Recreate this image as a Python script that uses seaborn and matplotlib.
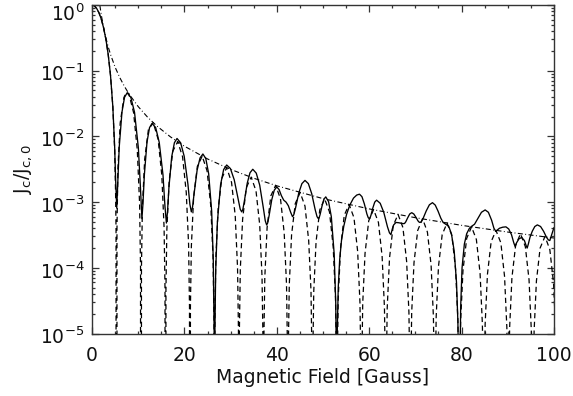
import matplotlib
matplotlib.use("Agg")
import matplotlib.pyplot as plt
import matplotlib.transforms as mtransforms
import seaborn as sns
from matplotlib.ticker import MultipleLocator, LogLocator, NullFormatter, FixedLocator

# ---------------- data ----------------
# dashed curve (ideal pattern)
field_dashed = [0, 0.5, 1, 1.5, 2, 2.5, 3, 3.5, 4, 4.5, 4.9, 5.1, 5.2, 5.3,
    5.4, 5.6, 6.1, 6.9, 7.42, 7.95, 9.0, 9.8, 10.3, 10.5, 10.6,
    10.7, 10.9, 11.4, 12.2, 13.25, 14.3, 15.1, 15.6, 15.8, 15.9,
    16.0, 16.2, 16.7, 17.5, 18.55, 19.6, 20.4, 20.9, 21.1, 21.2,
    21.3, 21.5, 22.0, 22.8, 23.85, 24.9, 25.7, 26.2, 26.4, 26.5,
    26.6, 26.8, 27.3, 28.1, 29.15, 30.2, 31.0, 31.5, 31.7, 31.8,
    31.9, 32.1, 32.6, 33.4, 34.45, 35.5, 36.3, 36.8, 37.0, 37.1,
    37.2, 37.4, 37.9, 38.7, 39.75, 40.8, 41.6, 42.1, 42.3, 42.4,
    42.5, 42.7, 43.2, 44.0, 45.05, 46.1, 46.9, 47.4, 47.6, 47.7,
    47.8, 48.0, 48.5, 49.3, 50.35, 51.4, 52.2, 52.7, 52.9, 53.0,
    53.1, 53.3, 53.8, 54.6, 55.65, 56.7, 57.5, 58.0, 58.2, 58.3,
    58.4, 58.6, 59.1, 59.9, 60.95, 62.0, 62.8, 63.3, 63.5, 63.6,
    63.7, 63.9, 64.4, 65.2, 66.25, 67.3, 68.1, 68.6, 68.8, 68.9,
    69.0, 69.2, 69.7, 70.5, 71.55, 72.6, 73.4, 73.9, 74.1, 74.2,
    74.3, 74.5, 75.0, 75.8, 76.85, 77.9, 78.7, 79.2, 79.4, 79.5,
    79.6, 79.8, 80.3, 81.1, 82.15, 83.2, 84.0, 84.5, 84.7, 84.8,
    84.9, 85.1, 85.6, 86.4, 87.45, 88.5, 89.3, 89.8, 90.0, 90.1,
    90.2, 90.4, 90.9, 91.7, 92.75, 93.8, 94.6, 95.1, 95.3, 95.4,
    95.5, 95.7, 96.2, 97.0, 98.05, 99.1, 99.9, 100.4, 100.6]
jc_dashed = [1.0, 0.971, 0.888, 0.762, 0.61, 0.45, 0.302, 0.177, 0.0853, 0.0287, 6.2e-3, 1.38e-3, 3.7e-4, 0,
    3.9e-4, 3.2e-3, 1.6e-2, 3.9e-2, 4.68e-2, 4.5e-2, 2.3e-2, 6.2e-3, 9.4e-4, 1.0e-4, 0,
    9.8e-5, 8.3e-4, 4.5e-3, 1.26e-2, 1.62e-2, 9.1e-3, 2.6e-3, 4.1e-4, 4.6e-5, 0,
    4.5e-5, 3.8e-4, 2.1e-3, 6.0e-3, 8.3e-3, 4.9e-3, 1.4e-3, 2.3e-4, 2.6e-5, 0,
    2.5e-5, 2.1e-4, 1.2e-3, 3.5e-3, 5.0e-3, 3.0e-3, 8.9e-4, 1.45e-4, 1.6e-5, 0,
    1.6e-5, 1.4e-4, 7.9e-4, 2.3e-3, 3.35e-3, 2.0e-3, 6.2e-4, 1.0e-4, 1.1e-5, 0,
    1.1e-5, 9.5e-5, 5.5e-4, 1.66e-3, 2.4e-3, 1.48e-3, 4.5e-4, 7.4e-5, 8.3e-6, 0,
    8.1e-6, 7.1e-5, 4.1e-4, 1.24e-3, 1.8e-3, 1.12e-3, 3.4e-4, 5.6e-5, 6.3e-6, 0,
    6.3e-6, 5.5e-5, 3.2e-4, 9.5e-4, 1.4e-3, 8.7e-4, 2.6e-4, 4.5e-5, 5.0e-6, 0,
    4.9e-6, 4.4e-5, 2.5e-4, 7.6e-4, 1.12e-3, 7.1e-4, 2.1e-4, 3.6e-5, 4.1e-6, 0,
    4.0e-6, 3.5e-5, 2.0e-4, 6.3e-4, 9.2e-4, 5.8e-4, 1.78e-4, 2.95e-5, 3.3e-6, 0,
    3.3e-6, 2.9e-5, 1.66e-4, 5.2e-4, 7.7e-4, 4.9e-4, 1.48e-4, 2.5e-5, 2.8e-6, 0,
    2.8e-6, 2.45e-5, 1.41e-4, 4.4e-4, 6.5e-4, 4.1e-4, 1.26e-4, 2.1e-5, 2.4e-6, 0,
    2.4e-6, 2.1e-5, 1.2e-4, 3.7e-4, 5.6e-4, 3.5e-4, 1.1e-4, 1.8e-5, 2.0e-6, 0,
    2.0e-6, 1.8e-5, 1.05e-4, 3.2e-4, 4.8e-4, 3.1e-4, 9.5e-5, 1.6e-5, 1.8e-6, 0,
    1.8e-6, 1.57e-5, 9.1e-5, 2.8e-4, 4.2e-4, 2.7e-4, 8.3e-5, 1.4e-5, 1.6e-6, 0,
    1.6e-6, 1.4e-5, 8.0e-5, 2.5e-4, 3.7e-4, 2.4e-4, 7.4e-5, 1.23e-5, 1.4e-6, 0,
    1.4e-6, 1.23e-5, 7.1e-5, 2.2e-4, 3.3e-4, 2.1e-4, 6.6e-5, 1.1e-5, 1.26e-6, 0,
    1.25e-6, 1.1e-5, 6.3e-5, 2.0e-4, 3.0e-4, 1.9e-4, 5.9e-5, 1.0e-5, 1.1e-6]

# solid curve (measured-like pattern)
field_solid = [0, 0.5, 1, 1.5, 2, 2.5, 3, 3.5, 4, 4.5, 4.9, 5.1, 5.25, 5.35,
    5.57, 5.89, 6.48, 7.04, 7.6, 8.4, 9.2, 10.03, 10.48, 10.8,
    11.02, 11.33, 11.9, 12.45, 13.0, 13.78, 14.55, 15.36, 15.79, 16.1,
    16.33, 16.65, 17.25, 17.83, 18.4, 19.18, 19.95, 20.76, 21.19, 21.5,
    21.75, 22.1, 22.75, 23.38, 24.0, 24.63, 25.25, 25.9, 26.25, 26.43, 26.5,
    26.57, 26.77, 27.14, 27.83, 28.49, 29.15, 29.96, 30.78, 31.62, 32.08, 32.4,
    32.64, 32.98, 33.6, 34.2, 34.8, 35.55, 36.3, 37.08, 37.5, 37.8,
    38.02, 38.33, 38.9, 39.45, 40.0, 40.5, 41.0, 41.5, 42.0, 42.5, 43.0, 43.4,
    43.67, 44.05, 44.75, 45.43, 46.1, 46.83, 47.55, 48.3, 48.71, 49.0,
    49.16, 49.38, 49.8, 50.2, 50.6, 51.2, 51.8, 52.42, 52.76, 52.93, 53.0,
    53.03, 53.1, 53.3, 53.6, 54.0, 54.5, 55.1, 55.8, 56.6, 57.3, 57.9, 58.43, 58.95, 59.5, 59.79, 60.0,
    60.16, 60.38, 60.8, 61.2, 61.6, 62.38, 63.15, 63.96, 64.39, 64.7,
    65.0, 65.3, 65.8, 66.4, 67.0, 67.5,
    67.67, 67.91, 68.35, 68.78, 69.2, 69.65, 70.1, 70.57, 70.82, 71.0,
    71.27, 71.65, 72.35, 73.03, 73.7, 74.3, 74.9, 75.5, 76.0, 76.6, 77.2, 77.8, 78.4, 78.9, 79.2, 79.4, 79.5,
    79.6, 79.8, 80.1, 80.6, 81.1, 81.7, 82.2, 82.8, 83.5, 84.3, 85.1, 85.8, 86.5, 87.0, 87.4,
    87.7, 88.2, 88.9, 89.6, 90.2, 90.8, 91.3, 91.6,
    91.9, 92.4, 93.0, 93.6, 94.0, 94.2,
    94.45, 94.8, 95.3, 95.85, 96.4, 97.1, 97.75, 98.4, 98.8, 99.1,
    99.5, 100.0]
jc_solid = [1.0, 0.971, 0.888, 0.762, 0.61, 0.45, 0.302, 0.177, 0.0853, 0.0287, 7.0e-3, 2.3e-3, 1.2e-3, 8.1e-4,
    1.9e-3, 6.9e-3, 2.34e-2, 3.94e-2, 4.6e-2, 3.93e-2, 2.33e-2, 6.7e-3, 1.67e-3, 5.6e-4,
    9.3e-4, 2.6e-3, 8.2e-3, 1.36e-2, 1.58e-2, 1.36e-2, 8.1e-3, 2.6e-3, 8.6e-4, 4.8e-4,
    7.0e-4, 1.68e-3, 4.9e-3, 8.0e-3, 9.3e-3, 8.0e-3, 5.0e-3, 1.87e-3, 9.2e-4, 7.1e-4,
    8.3e-4, 1.35e-3, 3.06e-3, 4.7e-3, 5.4e-3, 4.6e-3, 2.7e-3, 7.3e-4, 1.3e-4, 1.1e-5, 0,
    7.3e-6, 9.0e-5, 5.0e-4, 1.84e-3, 3.13e-3, 3.67e-3, 3.24e-3, 2.19e-3, 1.11e-3, 7.8e-4, 7.1e-4,
    7.7e-4, 1.04e-3, 1.94e-3, 2.8e-3, 3.16e-3, 2.76e-3, 1.81e-3, 8.2e-4, 5.2e-4, 4.5e-4,
    4.8e-4, 6.2e-4, 1.08e-3, 1.52e-3, 1.7e-3, 1.55e-3, 1.25e-3, 1.07e-3, 1.0e-3, 8.8e-4, 7.0e-4, 6.0e-4,
    6.4e-4, 8.1e-4, 1.37e-3, 1.91e-3, 2.14e-3, 1.91e-3, 1.35e-3, 7.7e-4, 6.0e-4, 5.6e-4,
    5.76e-4, 6.5e-4, 8.8e-4, 1.11e-3, 1.2e-3, 1.02e-3, 6.0e-4, 1.63e-4, 2.9e-5, 2.4e-6, 0,
    1e-6, 1.2e-5, 5e-5, 1.3e-4, 2.6e-4, 4.3e-4, 6.5e-4, 9.0e-4, 1.15e-3, 1.28e-3, 1.32e-3, 1.21e-3, 9.4e-4, 6.6e-4, 5.8e-4, 5.6e-4,
    5.7e-4, 6.3e-4, 8.2e-4, 1.0e-3, 1.07e-3, 9.6e-4, 7.0e-4, 4.2e-4, 3.4e-4, 3.2e-4,
    3.9e-4, 4.5e-4, 4.9e-4, 4.85e-4, 4.75e-4, 4.7e-4,
    4.75e-4, 5.0e-4, 5.8e-4, 6.6e-4, 6.9e-4, 6.6e-4, 5.9e-4, 5.17e-4, 4.95e-4, 4.9e-4,
    5.0e-4, 5.6e-4, 7.35e-4, 9.1e-4, 9.8e-4, 9.0e-4, 7.3e-4, 5.7e-4, 4.9e-4, 4.6e-4, 4.3e-4, 3.3e-4, 1.8e-4, 6e-5, 1.5e-5, 1.5e-6, 0,
    1.5e-6, 2.5e-5, 1.0e-4, 2.3e-4, 3.3e-4, 4.0e-4, 4.3e-4, 4.6e-4, 5.6e-4, 7.0e-4, 7.6e-4, 7.0e-4, 5.3e-4, 4.0e-4, 3.6e-4,
    3.75e-4, 4.0e-4, 4.15e-4, 4.2e-4, 3.9e-4, 3.2e-4, 2.4e-4, 2.1e-4,
    2.4e-4, 2.75e-4, 2.9e-4, 2.6e-4, 2.15e-4, 2.0e-4,
    2.3e-4, 2.9e-4, 3.6e-4, 4.25e-4, 4.5e-4, 4.25e-4, 3.6e-4, 2.9e-4, 2.65e-4, 2.6e-4,
    3.2e-4, 4.1e-4]

# dash-dot envelope
field_env = [1.7, 2, 2.5, 3, 3.5, 4, 5, 6, 7, 8, 10, 12, 14, 17, 20, 25, 30, 35, 40,
             50, 60, 70, 80, 90, 100]
jc_env = [0.981, 0.709, 0.454, 0.315, 0.231, 0.177, 0.113, 0.0788, 0.0579, 0.0443,
          0.0284, 0.0197, 0.01446, 0.00981, 0.00709, 0.00454, 0.00315, 0.00231,
          0.00177, 0.00113, 7.88e-4, 5.79e-4, 4.43e-4, 3.50e-4, 2.84e-4]

x_ticks = [0, 20, 40, 60, 80, 100]
y_ticks = [1e-5, 1e-4, 1e-3, 1e-2, 1e-1, 1e0]
y_ticklabels = [r"$\mathregular{10^{-5}}$", r"$\mathregular{10^{-4}}$", r"$\mathregular{10^{-3}}$",
                r"$\mathregular{10^{-2}}$", r"$\mathregular{10^{-1}}$", r"$\mathregular{10^{0}}$"]

# ---------------- plotting ----------------
sns.set_theme(style="ticks")
plt.rcParams["font.family"] = ["DejaVu Sans"]
plt.rcParams["mathtext.default"] = "regular"

fig, ax = plt.subplots(figsize=(5.73, 3.96), dpi=100)
fig.subplots_adjust(left=0.1606, right=0.9668, bottom=0.1578, top=0.9874)

sns.lineplot(x=field_dashed, y=jc_dashed, ax=ax, color="black", estimator=None, sort=False, lw=0.9)
ax.lines[-1].set_dashes([4.2, 2.8])
sns.lineplot(x=field_solid, y=jc_solid, ax=ax, color="black", estimator=None, sort=False, lw=0.95)
sns.lineplot(x=field_env, y=jc_env, ax=ax, color="black", estimator=None, sort=False, lw=0.8)
ax.lines[-1].set_dashes([4.5, 2.2, 0.8, 2.2])

ax.set_yscale("log", nonpositive="clip")
ax.set_xlim(0, 100)
ax.set_ylim(1e-5, 1.0)

ax.xaxis.set_major_locator(FixedLocator(x_ticks))
ax.set_xticklabels([str(t) for t in x_ticks])
ax.xaxis.set_minor_locator(MultipleLocator(5))
ax.yaxis.set_major_locator(FixedLocator(y_ticks))
ax.set_yticklabels(y_ticklabels)
ax.yaxis.set_minor_locator(LogLocator(base=10, subs=[2, 3, 4, 5, 6, 7, 8, 9], numticks=20))
ax.yaxis.set_minor_formatter(NullFormatter())

for s in ax.spines.values():
    s.set_color("#333333")
    s.set_linewidth(1.0)

ax.tick_params(which="both", direction="in", top=True, right=True, color="#333333", width=0.9)
ax.tick_params(which="major", length=5.3, labelsize=13.5, labelcolor="#111111")
ax.tick_params(which="minor", length=2.5)
ax.tick_params(axis="x", which="major", pad=9.3)
ax.tick_params(axis="y", which="major", pad=5.5)

ax.set_xlabel("Magnetic Field [Gauss]", fontsize=13.5, color="#111111")
ax.xaxis.set_label_coords(0.5, -0.106)
ax.set_ylabel(r"$\mathregular{J_c/J_{c,0}}$", fontsize=13.5, color="#111111", labelpad=4)

# shift the labels slightly downward, the top one more (as in the reference)
fig.canvas.draw()
ylabels = ax.get_yticklabels()
for i, lab in enumerate(ylabels):
    dy = -7.0 if i == len(ylabels) - 1 else -2.0
    lab.set_transform(lab.get_transform() + mtransforms.ScaledTranslation(0, dy / 100.0, fig.dpi_scale_trans))

fig.savefig("out.png", dpi=100)
